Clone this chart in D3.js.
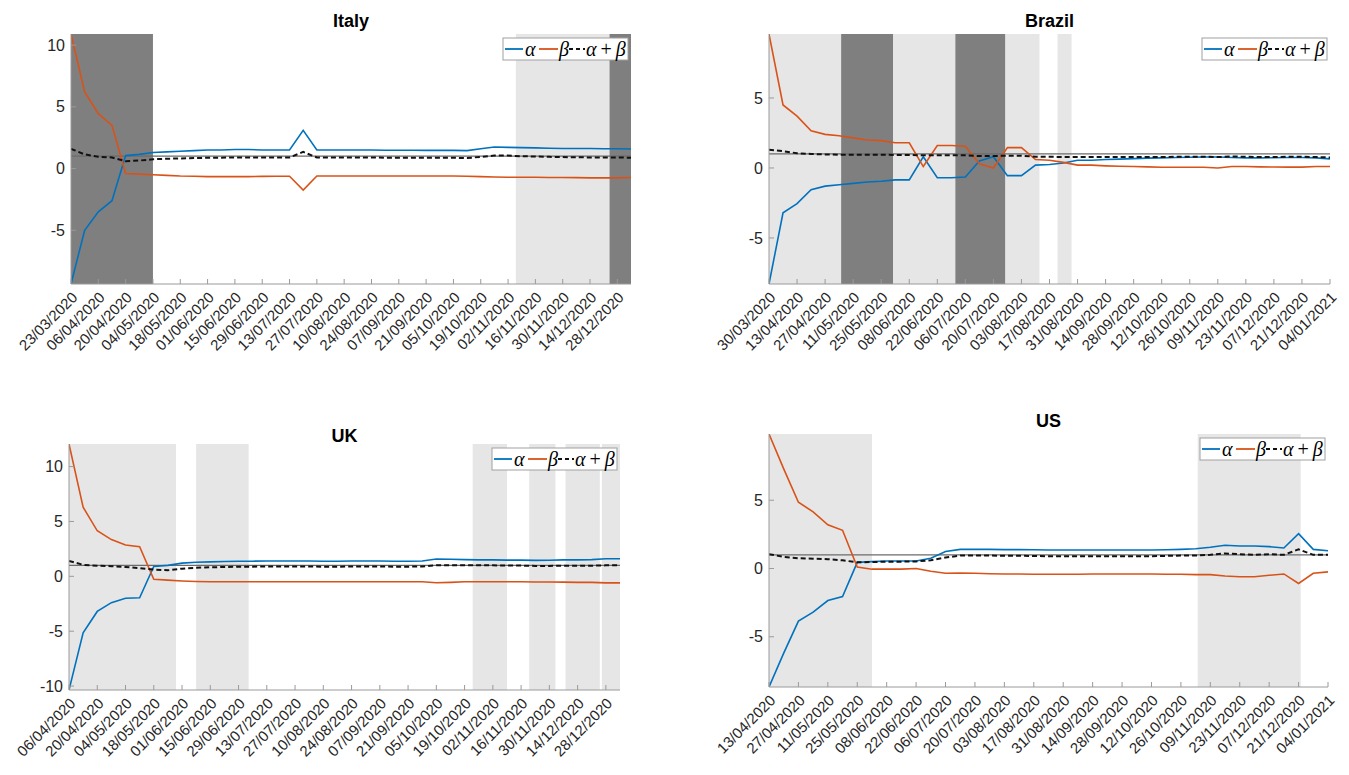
<!DOCTYPE html>
<html>
<head>
<meta charset="utf-8">
<script src="https://cdn.jsdelivr.net/npm/d3@7/dist/d3.min.js"></script>
<style>
body { margin: 0; background: #fff; }
svg { display: block; }
</style>
</head>
<body>
<div id="chart"></div>
<script>
// weekly estimates
var italyTicks = ["23/03/2020", "06/04/2020", "20/04/2020", "04/05/2020", "18/05/2020", "01/06/2020", "15/06/2020",
	"29/06/2020", "13/07/2020", "27/07/2020", "10/08/2020", "24/08/2020", "07/09/2020", "21/09/2020", "05/10/2020",
	"19/10/2020", "02/11/2020", "16/11/2020", "30/11/2020", "14/12/2020", "28/12/2020"];
var italyAlpha = [-9.35, -5.0, -3.5, -2.6, 1.05, 1.15, 1.3, 1.35, 1.4, 1.45, 1.5, 1.5, 1.55, 1.55, 1.5, 1.5, 1.5, 3.1,
	1.5, 1.5, 1.5, 1.5, 1.5, 1.48, 1.48, 1.48, 1.47, 1.47, 1.47, 1.45, 1.6, 1.75, 1.72, 1.7, 1.68, 1.65, 1.63, 1.62,
	1.62, 1.6, 1.6, 1.58];
var italyBeta = [10.9, 6.2, 4.45, 3.5, -0.4, -0.45, -0.5, -0.55, -0.6, -0.62, -0.65, -0.65, -0.65, -0.65, -0.63, -0.62,
	-0.62, -1.75, -0.6, -0.6, -0.6, -0.6, -0.6, -0.6, -0.6, -0.6, -0.6, -0.6, -0.6, -0.62, -0.65, -0.68, -0.7, -0.7,
	-0.7, -0.72, -0.72, -0.73, -0.75, -0.75, -0.75, -0.72];
var italySum = [1.6, 1.15, 0.95, 0.9, 0.6, 0.65, 0.75, 0.8, 0.82, 0.85, 0.87, 0.88, 0.9, 0.9, 0.9, 0.9, 0.9, 1.35,
	0.9, 0.9, 0.9, 0.9, 0.9, 0.88, 0.88, 0.88, 0.87, 0.87, 0.87, 0.85, 0.95, 1.05, 1.05, 1.0, 0.98, 0.95, 0.93, 0.92,
	0.9, 0.9, 0.9, 0.88];
var italyBands = [["09/03/2020", "04/05/2020", "dark"], ["06/11/2020", "24/12/2020", "light"],
	["24/12/2020", "11/01/2021", "dark"]];

var brazilTicks = ["30/03/2020", "13/04/2020", "27/04/2020", "11/05/2020", "25/05/2020", "08/06/2020", "22/06/2020",
	"06/07/2020", "20/07/2020", "03/08/2020", "17/08/2020", "31/08/2020", "14/09/2020", "28/09/2020", "12/10/2020",
	"26/10/2020", "09/11/2020", "23/11/2020", "07/12/2020", "21/12/2020", "04/01/2021"];
var brazilAlpha = [-8.29, -3.2, -2.55, -1.55, -1.3, -1.2, -1.1, -1.0, -0.95, -0.85, -0.85, 0.8, -0.7, -0.7, -0.65,
	0.5, 0.8, -0.55, -0.55, 0.2, 0.25, 0.35, 0.55, 0.55, 0.6, 0.63, 0.67, 0.7, 0.72, 0.75, 0.77, 0.78, 0.78, 0.75,
	0.72, 0.72, 0.73, 0.75, 0.75, 0.72, 0.65];
var brazilBeta = [9.57, 4.5, 3.7, 2.65, 2.4, 2.3, 2.15, 2.0, 1.95, 1.8, 1.8, 0.1, 1.6, 1.6, 1.55, 0.3, 0.0, 1.45,
	1.45, 0.6, 0.55, 0.4, 0.2, 0.2, 0.15, 0.12, 0.1, 0.08, 0.05, 0.05, 0.05, 0.05, 0.0, 0.1, 0.1, 0.08, 0.07, 0.06,
	0.06, 0.1, 0.1];
var brazilSum = [1.3, 1.2, 1.05, 1.0, 0.97, 0.95, 0.95, 0.95, 0.95, 0.93, 0.93, 0.9, 0.9, 0.9, 0.9, 0.85, 0.85,
	0.88, 0.88, 0.8, 0.8, 0.78, 0.78, 0.78, 0.78, 0.78, 0.78, 0.78, 0.78, 0.8, 0.8, 0.8, 0.78, 0.82, 0.8, 0.78, 0.78,
	0.8, 0.8, 0.78, 0.75];
var brazilBands = [["16/03/2020", "05/05/2020", "light"], ["05/05/2020", "31/05/2020", "dark"],
	["31/05/2020", "01/07/2020", "light"], ["01/07/2020", "26/07/2020", "dark"], ["26/07/2020", "12/08/2020", "light"],
	["21/08/2020", "28/08/2020", "light"]];

var ukTicks = ["06/04/2020", "20/04/2020", "04/05/2020", "18/05/2020", "01/06/2020", "15/06/2020", "29/06/2020",
	"13/07/2020", "27/07/2020", "10/08/2020", "24/08/2020", "07/09/2020", "21/09/2020", "05/10/2020", "19/10/2020",
	"02/11/2020", "16/11/2020", "30/11/2020", "14/12/2020", "28/12/2020"];
var ukAlpha = [-10.36, -5.15, -3.2, -2.4, -2.0, -1.95, 0.9, 1.0, 1.2, 1.28, 1.32, 1.35, 1.37, 1.38, 1.4, 1.4, 1.4,
	1.4, 1.38, 1.38, 1.4, 1.4, 1.4, 1.38, 1.38, 1.4, 1.58, 1.55, 1.52, 1.5, 1.5, 1.48, 1.48, 1.45, 1.47, 1.5, 1.5,
	1.52, 1.6, 1.6];
var ukBeta = [12.06, 6.3, 4.15, 3.35, 2.85, 2.7, -0.27, -0.35, -0.42, -0.47, -0.5, -0.5, -0.5, -0.5, -0.5, -0.5,
	-0.5, -0.5, -0.5, -0.5, -0.5, -0.5, -0.5, -0.5, -0.5, -0.5, -0.58, -0.55, -0.5, -0.5, -0.5, -0.5, -0.5, -0.52,
	-0.52, -0.53, -0.55, -0.55, -0.6, -0.6];
var ukSum = [1.4, 1.05, 0.97, 0.92, 0.85, 0.75, 0.62, 0.55, 0.7, 0.78, 0.82, 0.85, 0.87, 0.88, 0.9, 0.9, 0.9, 0.9,
	0.88, 0.88, 0.9, 0.9, 0.9, 0.88, 0.88, 0.9, 1.0, 1.0, 1.0, 1.0, 1.0, 0.98, 0.98, 0.95, 0.95, 0.97, 0.97, 0.97,
	1.0, 1.0];
var ukBands = [["23/03/2020", "29/05/2020", "light"], ["08/06/2020", "04/07/2020", "light"],
	["23/10/2020", "09/11/2020", "light"], ["20/11/2020", "03/12/2020", "light"], ["08/12/2020", "25/12/2020", "light"],
	["26/12/2020", "11/01/2021", "light"]];

var usTicks = ["13/04/2020", "27/04/2020", "11/05/2020", "25/05/2020", "08/06/2020", "22/06/2020", "06/07/2020",
	"20/07/2020", "03/08/2020", "17/08/2020", "31/08/2020", "14/09/2020", "28/09/2020", "12/10/2020", "26/10/2020",
	"09/11/2020", "23/11/2020", "07/12/2020", "21/12/2020", "04/01/2021"];
var usAlpha = [-8.68, -6.2, -3.85, -3.2, -2.35, -2.05, 0.45, 0.5, 0.55, 0.55, 0.55, 0.75, 1.25, 1.4, 1.4, 1.4, 1.38,
	1.38, 1.37, 1.35, 1.35, 1.35, 1.35, 1.35, 1.35, 1.35, 1.35, 1.37, 1.4, 1.45, 1.55, 1.7, 1.65, 1.65, 1.6, 1.5,
	2.55, 1.4, 1.3];
var usBeta = [9.85, 7.3, 4.85, 4.15, 3.2, 2.8, 0.1, -0.05, -0.05, -0.05, 0.0, -0.2, -0.35, -0.33, -0.35, -0.38,
	-0.4, -0.4, -0.42, -0.42, -0.42, -0.42, -0.4, -0.4, -0.4, -0.4, -0.4, -0.42, -0.42, -0.45, -0.45, -0.55, -0.6,
	-0.6, -0.5, -0.4, -1.1, -0.35, -0.25];
var usSum = [1.05, 0.85, 0.75, 0.72, 0.68, 0.6, 0.45, 0.47, 0.5, 0.5, 0.52, 0.6, 0.8, 0.95, 0.95, 0.95, 0.93, 0.93,
	0.92, 0.9, 0.9, 0.9, 0.9, 0.9, 0.9, 0.9, 0.9, 0.92, 0.95, 0.95, 1.0, 1.1, 1.05, 1.0, 1.05, 1.0, 1.4, 1.0, 1.0];
var usBands = [["16/03/2020", "01/06/2020", "light"], ["03/11/2020", "22/12/2020", "light"]];

var refLevel = 1;

var panels = [
	{ title: "Italy", ticks: italyTicks, alpha: italyAlpha, beta: italyBeta, sum: italySum, bands: italyBands,
		left: 71, right: 631, top: 34, bottom: 284, titleY: 27 },
	{ title: "Brazil", ticks: brazilTicks, alpha: brazilAlpha, beta: brazilBeta, sum: brazilSum, bands: brazilBands,
		left: 769, right: 1330, top: 34, bottom: 284, titleY: 27 },
	{ title: "UK", ticks: ukTicks, alpha: ukAlpha, beta: ukBeta, sum: ukSum, bands: ukBands,
		left: 69, right: 620, top: 444, bottom: 690, titleY: 442 },
	{ title: "US", ticks: usTicks, alpha: usAlpha, beta: usBeta, sum: usSum, bands: usBands,
		left: 769, right: 1328, top: 434, bottom: 687, titleY: 427 }
];

var BLUE = "#0072BD";
var ORANGE = "#D95319";
var AXIS = "#9a9a9a";
var shade = { light: "#e6e6e6", dark: "#7f7f7f" };

var width = 1349, height = 775;
var parseDate = d3.utcParse("%d/%m/%Y");

var svg = d3.select("#chart").append("svg")
	.attr("width", width)
	.attr("height", height)
	.attr("font-family", "'Liberation Sans', Arial, sans-serif");

panels.forEach(function(p, pi) {
	var start = parseDate(p.ticks[0]);
	var dates = p.alpha.map(function(v, i) { return d3.utcDay.offset(start, 7 * i); });

	var all = p.alpha.concat(p.beta, p.sum);
	var yExt = d3.extent(all);

	var x = d3.scaleUtc().domain([start, dates[dates.length - 1]]).range([p.left, p.right]);
	var y = d3.scaleLinear().domain(yExt).range([p.bottom, p.top]);

	var g = svg.append("g");

	var clipId = "clip" + pi;
	g.append("clipPath").attr("id", clipId)
		.append("rect")
		.attr("x", p.left).attr("y", p.top)
		.attr("width", p.right - p.left).attr("height", p.bottom - p.top);

	var plot = g.append("g").attr("clip-path", "url(#" + clipId + ")");

	// shaded periods
	plot.selectAll("rect.band").data(p.bands).enter()
		.append("rect").classed("band", true)
		.attr("x", function(d) { return x(parseDate(d[0])); })
		.attr("width", function(d) { return x(parseDate(d[1])) - x(parseDate(d[0])); })
		.attr("y", p.top)
		.attr("height", p.bottom - p.top)
		.attr("fill", function(d) { return shade[d[2]]; });

	// reference line at 1
	plot.append("line")
		.attr("x1", p.left).attr("x2", p.right)
		.attr("y1", y(refLevel)).attr("y2", y(refLevel))
		.attr("stroke", "#6b6b6b")
		.attr("stroke-width", 1.3);

	var line = function(vals) {
		return d3.line()
			.x(function(d, i) { return x(dates[i]); })
			.y(function(d) { return y(d); })(vals);
	};

	plot.append("path").attr("d", line(p.alpha))
		.attr("fill", "none").attr("stroke", BLUE).attr("stroke-width", 1.6);
	plot.append("path").attr("d", line(p.beta))
		.attr("fill", "none").attr("stroke", ORANGE).attr("stroke-width", 1.6);
	plot.append("path").attr("d", line(p.sum))
		.attr("fill", "none").attr("stroke", "#111").attr("stroke-width", 2)
		.attr("stroke-dasharray", "5,3");

	// axes
	g.append("line")
		.attr("x1", p.left).attr("x2", p.left)
		.attr("y1", p.top).attr("y2", p.bottom)
		.attr("stroke", AXIS);
	g.append("line")
		.attr("x1", p.left).attr("x2", p.right)
		.attr("y1", p.bottom).attr("y2", p.bottom)
		.attr("stroke", AXIS);

	var yTicks = d3.range(Math.ceil(yExt[0] / 5) * 5, yExt[1] + 1e-9, 5);
	g.selectAll("line.ytick").data(yTicks).enter()
		.append("line").classed("ytick", true)
		.attr("x1", p.left).attr("x2", p.left + 5)
		.attr("y1", function(d) { return y(d); })
		.attr("y2", function(d) { return y(d); })
		.attr("stroke", AXIS);
	g.selectAll("text.ylab").data(yTicks).enter()
		.append("text").classed("ylab", true)
		.attr("x", p.left - 6)
		.attr("y", function(d) { return y(d); })
		.attr("dy", "0.35em")
		.attr("text-anchor", "end")
		.attr("font-size", 16)
		.attr("fill", "#262626")
		.text(function(d) { return d; });

	var tickDates = p.ticks.map(parseDate);
	g.selectAll("line.xtick").data(tickDates).enter()
		.append("line").classed("xtick", true)
		.attr("x1", function(d) { return x(d); })
		.attr("x2", function(d) { return x(d); })
		.attr("y1", p.bottom).attr("y2", p.bottom - 5)
		.attr("stroke", AXIS);
	g.selectAll("text.xlab").data(p.ticks).enter()
		.append("text").classed("xlab", true)
		.attr("transform", function(d) {
			return "translate(" + (x(parseDate(d)) + 1) + "," + (p.bottom + 8) + ") rotate(-45)";
		})
		.attr("text-anchor", "end")
		.attr("dy", "0.6em")
		.attr("font-size", 15)
		.attr("fill", "#262626")
		.text(function(d) { return d; });

	// title
	g.append("text")
		.attr("x", (p.left + p.right) / 2)
		.attr("y", p.titleY)
		.attr("text-anchor", "middle")
		.attr("font-size", 18)
		.attr("font-weight", "bold")
		.attr("fill", "#000")
		.text(p.title);

	// legend
	var lw = 125, lh = 22;
	var lg = g.append("g")
		.attr("transform", "translate(" + (p.right - lw - 3) + "," + (p.top + 4) + ")");
	lg.append("rect")
		.attr("width", lw).attr("height", lh)
		.attr("fill", "#fff").attr("stroke", "#a0a0a0");
	var items = [
		{ x1: 2, x2: 20, color: BLUE, dash: null, tx: 22, label: [["α", "italic"]] },
		{ x1: 36, x2: 55, color: ORANGE, dash: null, tx: 56, label: [["β", "italic"]] },
		{ x1: 66, x2: 82, color: "#111", dash: "4,3", tx: 83, label: [["α", "italic"], ["\u2009+\u2009", "normal"], ["β", "italic"]] }
	];
	items.forEach(function(it) {
		lg.append("line")
			.attr("x1", it.x1).attr("x2", it.x2)
			.attr("y1", lh / 2).attr("y2", lh / 2)
			.attr("stroke", it.color)
			.attr("stroke-width", it.dash ? 2 : 1.8)
			.attr("stroke-dasharray", it.dash);
		var t = lg.append("text")
			.attr("x", it.tx).attr("y", lh / 2)
			.attr("dy", "0.33em")
			.attr("font-family", "'Liberation Serif', 'DejaVu Serif', serif")
			.attr("font-size", 20)
			.attr("fill", "#000");
		it.label.forEach(function(s) {
			t.append("tspan").attr("font-style", s[1]).text(s[0]);
		});
	});
});
</script>
</body>
</html>
